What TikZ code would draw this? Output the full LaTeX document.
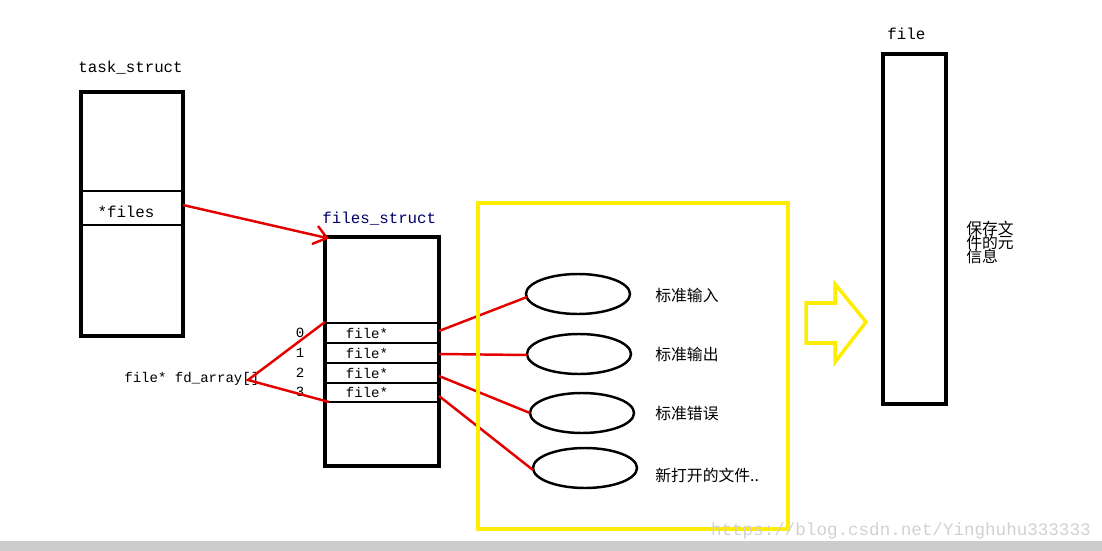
\documentclass[tikz,border=0pt]{standalone}
\usepackage{fontspec}
\newfontfamily\cjk{Noto Sans CJK SC}
\setmonofont{Liberation Mono}
\begin{document}
\begin{tikzpicture}[x=0.02cm,y=-0.02cm,
  thickbox/.style={draw=black,line width=2.4pt},
  row/.style={draw=black,line width=1.4pt},
  redl/.style={draw=red!90!black,line width=1.4pt},
  mono/.style={font=\ttfamily\small,inner sep=0pt},
  cn/.style={font=\cjk\small,inner sep=0pt,anchor=west}]
\useasboundingbox (0,0) rectangle (1102,551);
\fill[black!20] (0,541) rectangle (1102,551);
% task_struct
\node[mono,anchor=west] (tl) at (78,68) {task\_struct};
\draw[thickbox] (81,92) rectangle (183,336);
\draw[row] (81,191) -- (183,191) (81,225) -- (183,225);
\node[mono] (fl) at (126,212) {*files};
\coordinate (fs) at (183,205);
% files_struct
\node[mono,anchor=west,font=\ttfamily\small\color{blue!40!black}] (fsl) at (322,219) {files\_struct};
\draw[thickbox] (325,237) rectangle (439,466);
\foreach \y in {323,343,363,383,402} \draw[row] (325,\y) -- (439,\y);
\foreach \y/\n/\i in {333/0/a,353/1/b,373/2/c,392/3/d}{
  \node[mono,font=\ttfamily\footnotesize] (f\i) at (367,\y) {file*};
  \node[mono,font=\ttfamily\footnotesize] (n\i) at (300,\y) {\n};}
\coordinate (ft) at (327,238);
\draw[redl] (fs) -- (ft);
\draw[redl] (318,226) -- (ft) -- (312,244);
% fd_array
\node[mono,anchor=west,font=\ttfamily\footnotesize] (fd) at (124,379) {file* fd\_array[]};
\coordinate (fdr) at (248,380);
\coordinate (r0) at (325,322);
\coordinate (r3) at (329,402);
\draw[redl] (r0) -- (fdr) -- (r3);
% ellipses
\foreach \x/\y/\i in {578/294/a,579/354/b,582/413/c,585/468/d}
  \draw[black,line width=1.4pt] (\x,\y) ellipse [x radius=52,y radius=20];
\coordinate (ea) at (527,297);\coordinate (eb) at (527,355);
\coordinate (ec) at (530,413);\coordinate (ed) at (533,470);
\coordinate (sa) at (439,331);\coordinate (sb) at (439,354);
\coordinate (sc) at (439,376);\coordinate (sd) at (439,396);
\draw[redl] (sa)--(ea) (sb)--(eb) (sc)--(ec) (sd)--(ed);
\node[cn] (la) at (655,295) {标准输入};
\node[cn] (lb) at (655,354) {标准输出};
\node[cn] (lc) at (655,414) {标准错误};
\node[cn] (ld) at (655,475) {新打开的文件..};
% yellow
\draw[yellow!95!orange,line width=2pt] (478,203) rectangle (788,529);
\draw[yellow!95!orange,line width=2pt] (806,303)--(835,303)--(835,284)--(866,322)--(835,362)--(835,343)--(806,343)--cycle;
% file
\node[mono,anchor=west] (fl2) at (887,34) {file};
\node[font=\cjk\small,anchor=north west,align=left,inner sep=0pt] (meta) at (966,221) {保存文\\[-3pt]件的元\\[-3pt]信息};
\draw[thickbox] (883,54) rectangle (946,404);
\node[font=\ttfamily\normalsize,text=black!18,anchor=east,inner sep=0pt] (wm) at (1091,531) {https://blog.csdn.net/Yinghuhu333333};
\end{tikzpicture}
\end{document}
